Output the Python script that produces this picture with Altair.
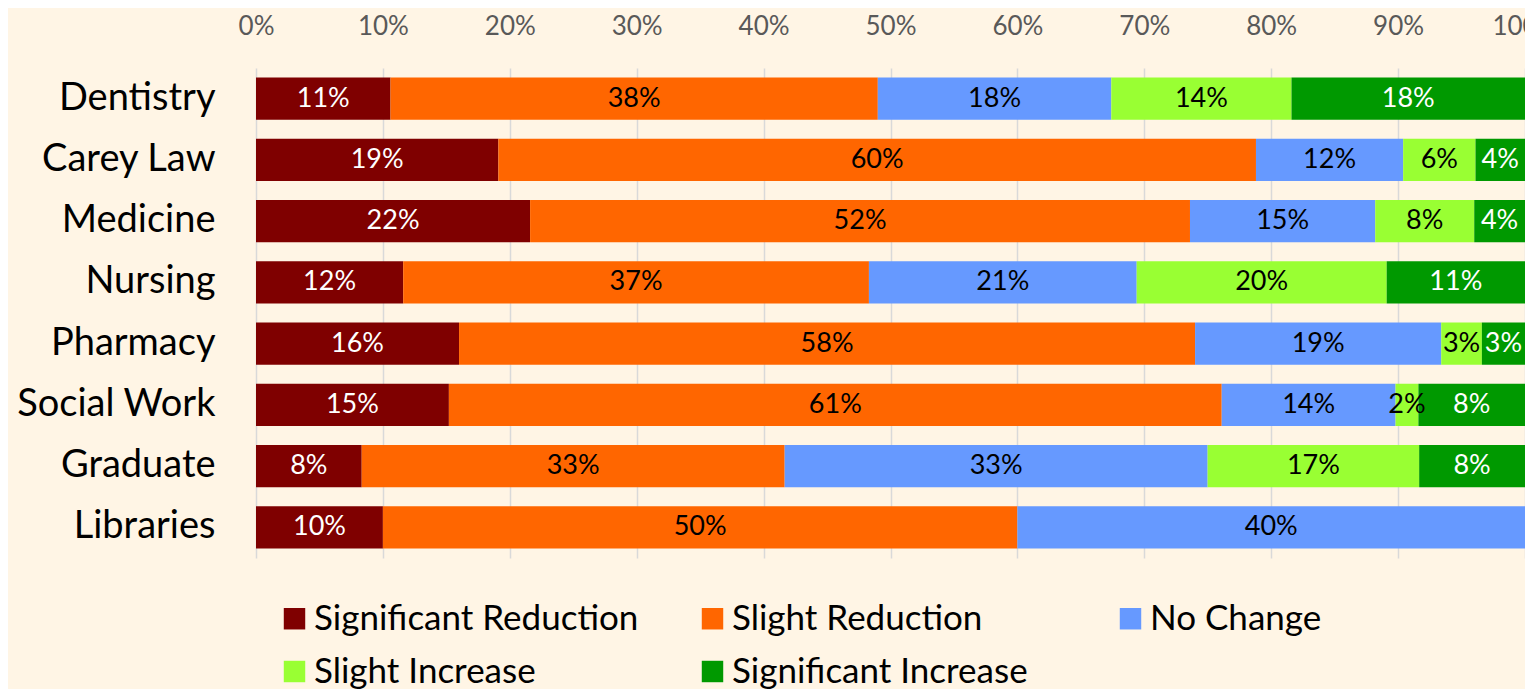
import altair as alt
import pandas as pd

categories = ["Dentistry", "Carey Law", "Medicine", "Nursing", "Pharmacy",
              "Social Work", "Graduate", "Libraries"]
series = ["Significant Reduction", "Slight Reduction", "No Change",
          "Slight Increase", "Significant Increase"]

sig_reduction = [10.6, 19.1, 21.6, 11.6, 16.0, 15.2, 8.33, 10.0]
slight_reduction = [38.4, 59.7, 52.0, 36.7, 58.0, 60.9, 33.33, 50.0]
no_change = [18.4, 11.6, 14.6, 21.1, 19.4, 13.7, 33.33, 40.0]
slight_increase = [14.2, 5.7, 7.8, 19.7, 3.2, 1.8, 16.67, 0.0]
sig_increase = [18.4, 3.9, 4.0, 10.9, 3.4, 8.4, 8.34, 0.0]

colors = ["#7F0000", "#FF6600", "#6699FF", "#99FF33", "#009900"]
label_colors = ["#FFFFFF", "#000000", "#000000", "#000000", "#FFFFFF"]
tick_values = [0, 10, 20, 30, 40, 50, 60, 70, 80, 90, 100]

series_values = [sig_reduction, slight_reduction, no_change, slight_increase, sig_increase]
rows = []
for i, cat in enumerate(categories):
    for j, s in enumerate(series):
        rows.append({"category": cat, "series": s, "value": series_values[j][i],
                     "order": j, "tcolor": label_colors[j]})
df = pd.DataFrame(rows)

FONT = "Lato"

y_scale = alt.Scale(paddingInner=0.31, paddingOuter=0.155)
x_scale = alt.Scale(domain=[0, 100], nice=False)

y_axis = alt.Axis(title=None, labelFont=FONT, labelFontSize=38,
                  labelColor="#000000", labelPadding=41, domain=False,
                  ticks=False, tickSize=0, grid=False, labelLimit=500)
x_axis = alt.Axis(orient="top", values=tick_values, labelExpr="datum.value + '%'",
                  title=None, labelFont=FONT, labelFontSize=26,
                  labelColor="#595959", labelPadding=29, domain=False,
                  ticks=False, tickSize=0, grid=True, gridColor="#D9D9D9",
                  gridWidth=1.5, labelFlush=False, labelOverlap=False,
                  labelBound=False)

base = alt.Chart(df).transform_filter("datum.value > 0")

bars = base.mark_bar().encode(
    y=alt.Y("category:N", sort=categories, scale=y_scale, axis=y_axis),
    x=alt.X("value:Q", stack="zero", scale=x_scale, axis=x_axis),
    color=alt.Color("series:N", sort=series,
                    scale=alt.Scale(domain=series, range=colors),
                    legend=alt.Legend(orient="none", legendX=21, legendY=533,
                                      direction="horizontal", columns=3,
                                      symbolType="square", symbolSize=460,
                                      symbolStrokeWidth=0, labelFont=FONT,
                                      labelFontSize=35, labelColor="#000000",
                                      title=None, columnPadding=56, rowPadding=17,
                                      labelOffset=2, gridAlign="all", padding=0,
                                      labelLimit=1000)),
    order=alt.Order("order:Q"),
)

texts = base.transform_stack(
    stack="value", as_=["x0", "x1"], groupby=["category"],
    sort=[alt.SortField("order", order="ascending")],
).transform_calculate(
    mid="(datum.x0 + datum.x1) / 2",
    label="format(datum.value, '.0f') + '%'",
).mark_text(font=FONT, fontSize=27, align="center", baseline="middle").encode(
    y=alt.Y("category:N", sort=categories, scale=y_scale, axis=y_axis),
    x=alt.X("mid:Q", scale=x_scale, axis=x_axis),
    text="label:N",
    color=alt.Color("tcolor:N", scale=None, legend=None),
)

chart = alt.layer(bars, texts).resolve_scale(color="independent").properties(
    width=1269, height=490,
    autosize=alt.AutoSizeParams(type="none"),
    padding={"left": 248, "top": 60, "right": 0, "bottom": 131},
    background="#FFF5E5",
).configure_view(stroke=None)

chart.save("out.html", embed_options={"renderer": "svg", "actions": False})
